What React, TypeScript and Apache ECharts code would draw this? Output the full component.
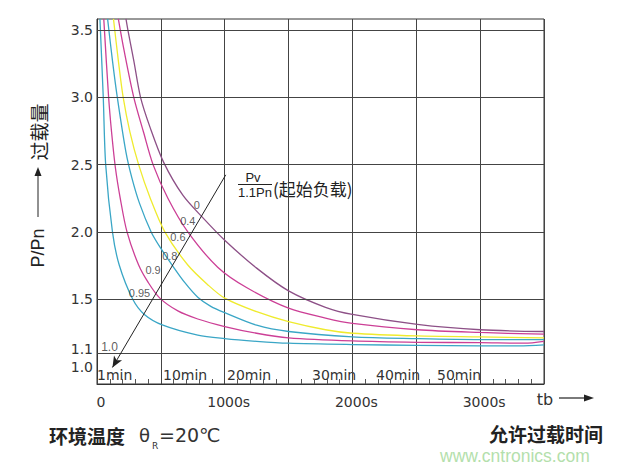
import { useEffect, useRef } from "react";
import * as echarts from "echarts";

// ---- axes ----
const X_MIN = 0;
const X_MAX = 3500;
const X_INTERVAL = 500;
const Y_MIN = 0.87;
const Y_MAX = 3.582;
const yLabelValues = [1.0, 1.1, 1.5, 2.0, 2.5, 3.0, 3.5];
const hGridValues = [1.1, 1.5, 2.0, 2.5, 3.0, 3.5];

// ---- curves: [seconds, P/Pn] ----
const curveNames = ["0", "0.4", "0.6", "0.8", "0.9", "0.95"];
const curveColors = ["#8d5087", "#cc3f96", "#efeb2e", "#3aa6c6", "#cc3f96", "#3aa6c6"];

const curve00 = [[227, 3.583], [242, 3.5], [288, 3.273], [341, 3.0], [417, 2.773], [523, 2.515], [672, 2.273], [828, 2.106], [1000, 1.938], [1250, 1.731], [1500, 1.562], [1789, 1.44], [2000, 1.387], [2508, 1.313], [3000, 1.273], [3500, 1.26]];
const curve04 = [[167, 3.583], [212, 3.348], [288, 3.0], [364, 2.742], [439, 2.5], [555, 2.25], [711, 2.0], [945, 1.738], [1174, 1.585], [1500, 1.433], [1789, 1.36], [2000, 1.32], [2508, 1.273], [3000, 1.253], [3500, 1.24]];
const curve06 = [[129, 3.583], [167, 3.273], [205, 3.0], [258, 2.742], [326, 2.5], [417, 2.25], [531, 2.0], [711, 1.754], [867, 1.608], [1000, 1.508], [1250, 1.407], [1500, 1.333], [1789, 1.273], [2000, 1.247], [2508, 1.227], [3000, 1.22], [3500, 1.213]];
const curve08 = [[83, 3.583], [121, 3.273], [159, 3.0], [227, 2.591], [273, 2.402], [333, 2.212], [424, 2.0], [500, 1.877], [594, 1.746], [688, 1.623], [789, 1.515], [891, 1.447], [1000, 1.4], [1250, 1.307], [1500, 1.26], [2000, 1.22], [2508, 1.207], [3000, 1.2], [3500, 1.2]];
const curve09 = [[53, 3.583], [91, 3.0], [114, 2.742], [144, 2.477], [182, 2.25], [235, 2.0], [326, 1.754], [402, 1.623], [492, 1.508], [633, 1.413], [789, 1.353], [1000, 1.297], [1250, 1.247], [1500, 1.213], [2000, 1.19], [2508, 1.18], [3000, 1.177], [3347, 1.173], [3500, 1.187]];
const curve095 = [[23, 3.583], [49, 3.0], [68, 2.5], [121, 2.0], [174, 1.754], [280, 1.5], [371, 1.387], [516, 1.307], [789, 1.233], [1000, 1.207], [1250, 1.187], [1500, 1.173], [2000, 1.163], [2508, 1.157], [3000, 1.153], [3306, 1.153], [3500, 1.16]];
const curves = [curve00, curve04, curve06, curve08, curve09, curve095];

// labels along the arrow
const curveLabelText = ["0", "0.4", "0.6", "0.8", "0.9", "0.95", "1.0"];
const curveLabelPos = [[781, 2.197], [711, 2.083], [633, 1.962], [570, 1.823], [439, 1.715], [333, 1.546], [98, 1.147]];
const arrowFrom = [1008, 2.424];
const arrowTo = [121, 0.993];

const minLabels = ["1min", "10min", "20min", "30min", "40min", "50min"];
const minLabelX = [97, 163, 227, 312, 376, 437];

const AX_FONT = '"DejaVu Sans", sans-serif';
const CJK_FONT = '"Noto Sans CJK SC", sans-serif';
const LIB_FONT = '"Liberation Sans", sans-serif';

export default function App() {
  const ref = useRef<HTMLDivElement>(null);
  useEffect(() => {
    document.body.style.margin = "0";
    const chart = echarts.init(ref.current!, null, { renderer: "svg" });

    const lineSeries = curves.map((d, i) => ({
      type: "line",
      name: curveNames[i],
      data: d,
      showSymbol: false,
      smooth: 0.3,
      z: 3,
      lineStyle: { color: curveColors[i], width: 1.3 },
      itemStyle: { color: curveColors[i] },
    }));

    const graphics: any[] = [];
    // y axis title
    graphics.push(
      { type: "text", x: 38, y: 248, rotation: Math.PI / 2, style: { text: "P/Pn", font: "18px " + LIB_FONT, fill: "#222", textAlign: "center", textVerticalAlign: "middle" } },
      { type: "line", shape: { x1: 38, y1: 217, x2: 38, y2: 174 }, style: { stroke: "#222", lineWidth: 1 } },
      { type: "polygon", shape: { points: [[34.5, 176], [41.5, 176], [38, 167]] }, style: { fill: "#222" } },
      { type: "text", x: 38, y: 132, rotation: Math.PI / 2, style: { text: "过载量", font: "19px " + CJK_FONT, fill: "#222", textAlign: "center", textVerticalAlign: "middle" } }
    );
    // fraction annotation
    graphics.push(
      { type: "text", x: 253, y: 177, style: { text: "Pv", font: "13px " + LIB_FONT, fill: "#222", textAlign: "center", textVerticalAlign: "middle" } },
      { type: "line", shape: { x1: 238, y1: 184.5, x2: 272, y2: 184.5 }, style: { stroke: "#222", lineWidth: 1 } },
      { type: "text", x: 255, y: 192.5, style: { text: "1.1Pn", font: "13px " + LIB_FONT, fill: "#222", textAlign: "center", textVerticalAlign: "middle" } },
      { type: "text", x: 273, y: 188, style: { text: "(起始负载)", font: "17px " + CJK_FONT, fill: "#222", textAlign: "left", textVerticalAlign: "middle" } }
    );
    // minute labels
    minLabels.forEach((t, i) => {
      graphics.push({ type: "text", x: minLabelX[i], y: 375, style: { text: t, font: "14px " + AX_FONT, fill: "#333", textAlign: "left", textVerticalAlign: "middle" } });
    });
    // tb arrow
    graphics.push(
      { type: "text", x: 545, y: 399, style: { text: "tb", font: "16px " + AX_FONT, fill: "#333", textAlign: "center", textVerticalAlign: "middle" } },
      { type: "line", shape: { x1: 559, y1: 398, x2: 586, y2: 398 }, style: { stroke: "#222", lineWidth: 1.2 } },
      { type: "polygon", shape: { points: [[584, 394.5], [584, 401.5], [594, 398]] }, style: { fill: "#222" } }
    );
    // bottom texts
    graphics.push(
      { type: "text", x: 49, y: 435, style: { text: "环境温度", font: "bold 19px " + CJK_FONT, fill: "#222", textAlign: "left", textVerticalAlign: "middle" } },
      { type: "text", x: 139, y: 435, style: { text: "θ", font: "18px " + AX_FONT, fill: "#333", textAlign: "left", textVerticalAlign: "middle" } },
      { type: "text", x: 152, y: 446, style: { text: "R", font: "9px " + AX_FONT, fill: "#333", textAlign: "left", textVerticalAlign: "middle" } },
      { type: "text", x: 159, y: 435, style: { text: "=20℃", font: '19px "DejaVu Sans", "Noto Sans CJK SC", sans-serif', fill: "#333", textAlign: "left", textVerticalAlign: "middle" } },
      { type: "text", x: 489, y: 433, style: { text: "允许过载时间", font: "bold 19px " + CJK_FONT, fill: "#222", textAlign: "left", textVerticalAlign: "middle" } },
      { type: "text", x: 440, y: 455.5, style: { text: "www.cntronics.com", font: "17.5px " + LIB_FONT, fill: "#b4dfac", textAlign: "left", textVerticalAlign: "middle" } }
    );

    chart.setOption({
      animation: false,
      grid: { left: 97, right: 77, top: 19, bottom: 82, show: true, borderColor: "#333", borderWidth: 1, backgroundColor: "transparent" },
      xAxis: {
        type: "value",
        min: X_MIN,
        max: X_MAX,
        interval: X_INTERVAL,
        axisLine: { show: true, lineStyle: { color: "#333", width: 1 } },
        axisTick: { show: true, inside: true, length: 5, lineStyle: { color: "#444" } },
        minorTick: { show: true, splitNumber: 5, length: 5, lineStyle: { color: "#555" } },
        splitLine: { show: true, lineStyle: { color: "#444", width: 1 } },
        axisLabel: {
          margin: 11,
          padding: [0, 0, 0, 8],
          fontSize: 14,
          fontFamily: AX_FONT,
          color: "#333",
          formatter: (v: number) => (v === 0 ? "0" : v % 1000 === 0 ? v + "s" : ""),
        },
      },
      yAxis: {
        type: "value",
        min: Y_MIN,
        max: Y_MAX,
        axisLine: { show: true, lineStyle: { color: "#333", width: 1 } },
        axisTick: { show: false },
        splitLine: { show: false },
        axisLabel: {
          customValues: yLabelValues,
          margin: 4,
          fontSize: 14,
          fontFamily: AX_FONT,
          color: "#333",
          formatter: (v: number) => {
            const s = v.toFixed(1);
            if (s === "1.1") return "{up|1.1}";
            return s;
          },
          rich: { up: { fontSize: 14, fontFamily: AX_FONT, color: "#333", padding: [0, 0, 9, 0] } },
        },
      },
      series: [
        {
          type: "line",
          name: "grid",
          data: [],
          z: 1,
          silent: true,
          markLine: {
            silent: true,
            symbol: ["none", "none"],
            label: { show: false },
            lineStyle: { color: "#444", width: 1, type: "solid" },
            data: hGridValues.map((v) => ({ yAxis: v })),
          },
        },
        ...lineSeries,
        {
          type: "scatter",
          name: "labels",
          z: 5,
          symbolSize: 0,
          itemStyle: { color: "#333" },
          data: curveLabelPos.map((p, i) => ({
            name: curveLabelText[i],
            value: p,
            label: i === 6 ? { fontSize: 12, color: "#333" } : { color: "#333" },
          })),
          label: {
            show: true,
            position: "inside",
            formatter: "{b}",
            fontSize: 11,
            fontFamily: LIB_FONT,
            color: "#333",
          },
          markLine: {
            silent: true,
            symbol: ["none", "arrow"],
            symbolSize: [7, 11],
            label: { show: false },
            lineStyle: { color: "#222", width: 1, type: "solid" },
            itemStyle: { color: "#222" },
            data: [[{ coord: arrowFrom }, { coord: arrowTo }]],
          },
        },
      ],
      graphic: graphics,
    });
    return () => chart.dispose();
  }, []);
  return <div ref={ref} style={{ width: 621, height: 466 }} />;
}
